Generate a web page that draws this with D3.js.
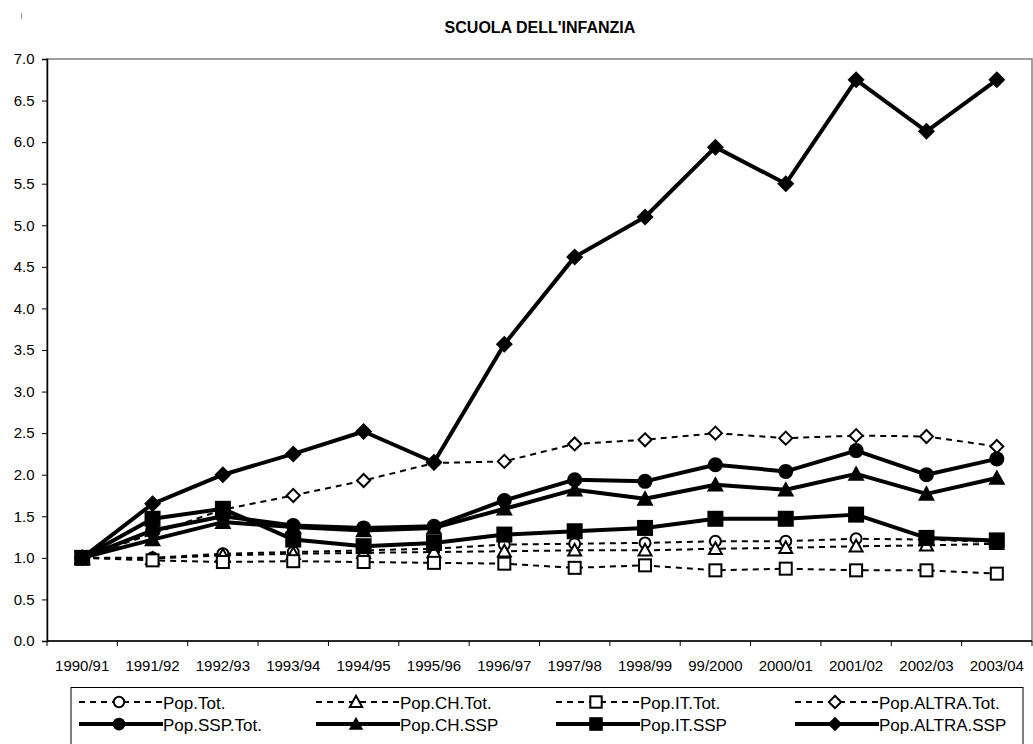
<!DOCTYPE html>
<html>
<head>
<meta charset="utf-8">
<script src="https://cdn.jsdelivr.net/npm/d3@7"></script>
<style>
  html, body { margin: 0; padding: 0; background: #fff; }
  svg { display: block; font-family: "Liberation Sans", Arial, sans-serif; }
</style>
</head>
<body>
<svg id="chart" width="1033" height="744"></svg>
<script>
// ---------- data ----------
const categories = ["1990/91","1991/92","1992/93","1993/94","1994/95","1995/96","1996/97","1997/98","1998/99","99/2000","2000/01","2001/02","2002/03","2003/04"];
const yTicks = [0,0.5,1,1.5,2,2.5,3,3.5,4,4.5,5,5.5,6,6.5,7];

const popTot      = [1.00, 1.00, 1.05, 1.07, 1.09, 1.11, 1.16, 1.17, 1.18, 1.20, 1.20, 1.23, 1.22, 1.19];
const popCHTot    = [1.00, 0.99, 1.03, 1.05, 1.06, 1.07, 1.08, 1.09, 1.09, 1.11, 1.12, 1.14, 1.15, 1.17];
const popITTot    = [1.00, 0.97, 0.95, 0.96, 0.95, 0.94, 0.93, 0.88, 0.91, 0.85, 0.87, 0.85, 0.85, 0.81];
const popALTRATot = [1.00, 1.29, 1.58, 1.75, 1.93, 2.14, 2.16, 2.37, 2.42, 2.50, 2.44, 2.47, 2.46, 2.34];
const popSSPTot   = [1.00, 1.33, 1.50, 1.39, 1.36, 1.38, 1.69, 1.94, 1.92, 2.12, 2.04, 2.29, 2.00, 2.19];
const popCHSSP    = [1.00, 1.22, 1.43, 1.37, 1.33, 1.36, 1.59, 1.82, 1.71, 1.88, 1.82, 2.01, 1.77, 1.96];
const popITSSP    = [1.00, 1.47, 1.59, 1.22, 1.14, 1.18, 1.28, 1.32, 1.36, 1.47, 1.47, 1.52, 1.24, 1.21];
const popALTRASSP = [1.00, 1.65, 2.00, 2.25, 2.52, 2.15, 3.57, 4.62, 5.10, 5.94, 5.50, 6.75, 6.13, 6.75];

const seriesNames = ["Pop.Tot.","Pop.CH.Tot.","Pop.IT.Tot.","Pop.ALTRA.Tot.","Pop.SSP.Tot.","Pop.CH.SSP","Pop.IT.SSP","Pop.ALTRA.SSP"];
const seriesValues = [popTot, popCHTot, popITTot, popALTRATot, popSSPTot, popCHSSP, popITSSP, popALTRASSP];
const seriesShapes = ["circle","triangle","square","diamond","circle","triangle","square","diamond"];
const seriesSolid  = [false,false,false,false,true,true,true,true];

// ---------- layout ----------
const svg = d3.select("#chart");
const plot = {left: 47, right: 1032, top: 59, bottom: 641};

const x = d3.scaleBand().domain(categories).range([plot.left, plot.right]).padding(0);
const y = d3.scaleLinear().domain([0, 7]).range([plot.bottom, plot.top]);

// stray mark top-left
svg.append("rect").attr("x", 21).attr("y", 13).attr("width", 1).attr("height", 6).attr("fill", "#999");

// title
svg.append("text").attr("x", 540).attr("y", 33).attr("text-anchor", "middle")
  .attr("font-size", 16).attr("font-weight", "bold").text("SCUOLA DELL'INFANZIA");

// plot frame (grey)
svg.append("rect").attr("x", plot.left).attr("y", plot.top)
  .attr("width", plot.right - plot.left).attr("height", plot.bottom - plot.top)
  .attr("fill", "none").attr("stroke", "#808080").attr("stroke-width", 1.5);

// y axis
const yAxis = d3.axisLeft(y).tickValues(yTicks).tickFormat(d3.format(".1f")).tickSize(5).tickPadding(7.5);
const gy = svg.append("g").attr("transform", `translate(${plot.left},0)`).call(yAxis);
gy.select(".domain").attr("stroke", "#000").attr("stroke-width", 1.5);
gy.selectAll(".tick line").attr("stroke", "#000");
gy.selectAll("text").attr("font-size", 15).attr("font-family", "Liberation Sans, Arial, sans-serif").attr("fill", "#000");

// x axis (ticks at category boundaries)
const gx = svg.append("g").attr("transform", `translate(0,${plot.bottom})`);
gx.append("line").attr("x1", plot.left).attr("x2", plot.right).attr("stroke", "#000").attr("stroke-width", 1.5);
const boundaries = categories.map(c => x(c)).concat([x(categories[categories.length-1]) + x.bandwidth()]);
gx.selectAll("line.tk").data(boundaries).enter().append("line").attr("class","tk")
  .attr("x1", d => d).attr("x2", d => d).attr("y1", 0).attr("y2", 5).attr("stroke", "#000");
gx.selectAll("text").data(categories).enter().append("text")
  .attr("x", d => x(d) + x.bandwidth()/2).attr("y", 30)
  .attr("text-anchor", "middle").attr("font-size", 15).text(d => d);

// ---------- markers ----------
function drawMarker(g, shape, cx, cy, solid, scale) {
  const s = scale || 1;
  const fill = solid ? "#000" : "#fff";
  const sw = solid ? 0 : 2;
  if (shape === "circle") {
    g.append("circle").attr("cx", cx).attr("cy", cy).attr("r", (solid ? 7.5 : 5.5) * s)
      .attr("fill", fill).attr("stroke", "#000").attr("stroke-width", sw);
  } else if (shape === "square") {
    const h = (solid ? 8 : 6) * s;
    g.append("rect").attr("x", cx - h).attr("y", cy - h).attr("width", 2*h).attr("height", 2*h)
      .attr("fill", fill).attr("stroke", "#000").attr("stroke-width", sw);
  } else if (shape === "triangle") {
    const h = (solid ? 8.5 : 6.5) * s;
    g.append("path").attr("d", `M${cx},${cy-h}L${cx+h},${cy+h*0.8}L${cx-h},${cy+h*0.8}Z`)
      .attr("fill", fill).attr("stroke", "#000").attr("stroke-width", sw);
  } else if (shape === "diamond") {
    const h = (solid ? 8.5 : 6.5) * s;
    g.append("path").attr("d", `M${cx},${cy-h}L${cx+h},${cy}L${cx},${cy+h}L${cx-h},${cy}Z`)
      .attr("fill", fill).attr("stroke", "#000").attr("stroke-width", sw);
  }
}

const line = d3.line().x((d, i) => x(categories[i]) + x.bandwidth()/2).y(d => y(d));

seriesValues.forEach((vals, si) => {
  const g = svg.append("g");
  const solid = seriesSolid[si];
  g.append("path").datum(vals).attr("d", line).attr("fill", "none")
    .attr("stroke", "#000").attr("stroke-width", solid ? 4 : 2)
    .attr("stroke-dasharray", solid ? null : "6,5").attr("stroke-linejoin", "round");
  vals.forEach((v, i) => drawMarker(g, seriesShapes[si], x(categories[i]) + x.bandwidth()/2, y(v), solid));
});

// ---------- legend ----------
const lg = svg.append("g");
lg.append("rect").attr("x", 71).attr("y", 687.5).attr("width", 952).attr("height", 70)
  .attr("fill", "#fff").attr("stroke", "#000").attr("stroke-width", 1);
const colX = [79, 316, 556, 795];
const rowY = [702, 724];
seriesNames.forEach((name, si) => {
  const col = si % 4, row = Math.floor(si / 4);
  const x0 = colX[col], yy = rowY[row];
  const solid = seriesSolid[si];
  lg.append("line").attr("x1", x0).attr("x2", x0 + 84).attr("y1", yy).attr("y2", yy)
    .attr("stroke", "#000").attr("stroke-width", solid ? 4 : 2)
    .attr("stroke-dasharray", solid ? null : "6,5");
  drawMarker(lg, seriesShapes[si], x0 + 40, yy, solid, solid ? 0.85 : 0.95);
  lg.append("text").attr("x", x0 + 84).attr("y", yy + 7).attr("font-size", 17).text(name);
});
</script>
</body>
</html>
